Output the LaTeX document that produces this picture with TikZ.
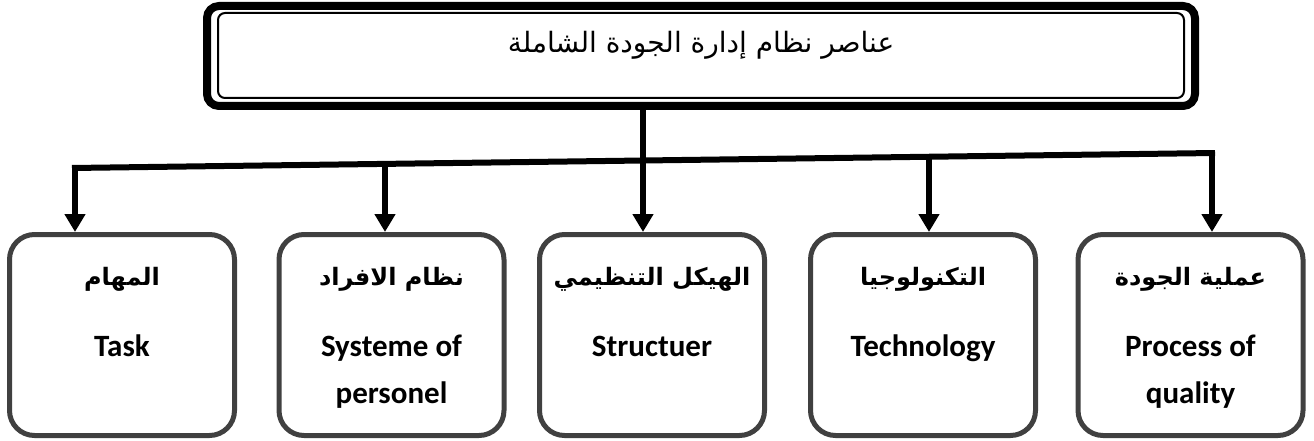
\documentclass[tikz,border=0pt]{standalone}
\usepackage{fontspec}
\setmainfont{Carlito}
\newfontfamily\arabicfont[Script=Arabic]{DejaVu Sans}
\TeXXeTstate=1
\usetikzlibrary{arrows.meta, calc, positioning}

\begin{document}
\begin{tikzpicture}[x=1pt, y=-1pt,
    element/.style={draw=black!75, line width=5pt, rounded corners=25pt,
        minimum width=225pt, minimum height=201pt},
    arname/.style={font=\arabicfont\bfseries\fontsize{24}{28}\selectfont,
        inner sep=0pt, anchor=base},
    enname/.style={font=\bfseries\fontsize{31}{47}\selectfont,
        align=center, inner sep=0pt, anchor=north},
    bus/.style={line width=6pt},
    down/.style={line width=6pt, -{Triangle[width=20pt,length=18pt]}}]
    \useasboundingbox (0,0) rectangle (1314,441);

    % Main title box with double frame
    \node[draw, line width=8pt, rounded corners=12pt,
        minimum width=988pt, minimum height=100pt] (title) at (701,56) {};
    \draw[line width=2pt, rounded corners=7pt]
        ($(title.north west)+(15,11)$) rectangle ($(title.south east)+(-15,-12)$);
    \node[font=\arabicfont\fontsize{28}{34}\selectfont, inner sep=0pt, anchor=base]
        (titletext) at ($(title.center)+(0,-3)$) {\beginR عناصر نظام إدارة الجودة الشاملة\endR};

    % The five elements
    \foreach \nm/\cx in {task/122, people/391.5, structure/652, tech/923, process/1190.5}
        \node[element] (\nm) at (\cx,335) {};

    % Labels in each element
    \foreach \nm/\ar/\en in {task/{المهام}/{Task},
                             people/{نظام الافراد}/{Systeme of\\personel},
                             structure/{الهيكل التنظيمي}/{Structuer},
                             tech/{التكنولوجيا}/{Technology},
                             process/{عملية الجودة}/{Process of\\quality}} {
        \node[arname] (\nm-ar) at ($(\nm.north)+(0,53)$) {\beginR\ar\endR};
        \node[enname] (\nm-en) at ($(\nm.north)+(0,91)$) {\strut\en};
    }

    % Distribution line
    \coordinate (busL) at (72,168);
    \coordinate (busR) at (1215,153);
    \draw[bus] (busL) -- (busR);

    % Arrows down to the elements
    \foreach \nm/\ax in {task/75, people/385, structure/643, tech/929, process/1212} {
        \coordinate (j-\nm) at ($(busL)!{(\ax-72)/1143}!(busR)$);
    }
    \foreach \nm in {task, people, tech, process}
        \draw[down] (j-\nm) -- (j-\nm |- \nm.north);
    \draw[down] (j-structure |- title.south) -- (j-structure |- structure.north);

\end{tikzpicture}
\end{document}
